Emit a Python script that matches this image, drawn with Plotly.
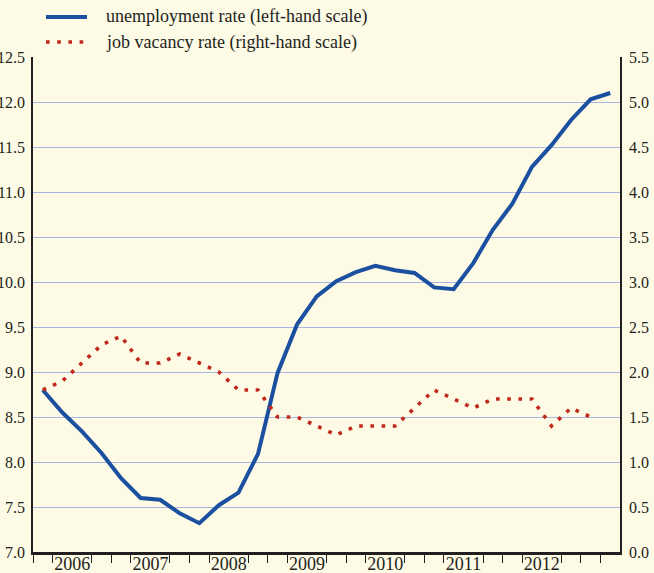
import plotly.graph_objects as go

# Quarterly observations, 2006 Q1 onwards
start_year = 2006
unemployment = [8.80, 8.55, 8.34, 8.10, 7.82, 7.60, 7.58, 7.43, 7.32, 7.52,
                7.66, 8.09, 8.99, 9.53, 9.84, 10.01, 10.11, 10.18, 10.13, 10.10,
                9.94, 9.92, 10.21, 10.58, 10.87, 11.28, 11.52, 11.80, 12.03, 12.10]
job_vacancy = [1.8, 1.9, 2.1, 2.3, 2.4, 2.1, 2.1, 2.2, 2.1, 2.0,
               1.8, 1.8, 1.5, 1.5, 1.4, 1.3, 1.4, 1.4, 1.4, 1.6,
               1.8, 1.7, 1.6, 1.7, 1.7, 1.7, 1.4, 1.6, 1.5]
years = [2006, 2007, 2008, 2009, 2010, 2011, 2012]
series_names = ["unemployment rate (left-hand scale)",
                "job vacancy rate (right-hand scale)"]

# place each quarter at its mid-point on a continuous year axis
x_unemp = [start_year + (i + 0.5) / 4 for i in range(len(unemployment))]
x_vac = [start_year + (i + 0.5) / 4 for i in range(len(job_vacancy))]

BG = "#fdfae5"
BLUE = "#1b50a0"
RED = "#c0281c"
GRID = "#aab6e2"
INK = "#231f20"
FONT = "Liberation Serif"

fig = go.Figure()
fig.add_trace(go.Scatter(x=x_unemp, y=unemployment, mode="lines",
                         name=series_names[0], yaxis="y",
                         line=dict(color=BLUE, width=4)))
fig.add_trace(go.Scatter(x=x_vac, y=job_vacancy, mode="lines",
                         name=series_names[1], yaxis="y2",
                         line=dict(color=RED, width=3.6, dash="3.6px,7.6px")))

# quarter boundaries get a tick, except mid-year where the year label sits
quarter_edges = [start_year + k / 4 for k in range(0, 31) if k % 4 != 2]

fig.update_layout(
    width=654, height=573,
    margin=dict(l=33, r=34, t=57, b=21),
    paper_bgcolor=BG, plot_bgcolor=BG,
    showlegend=False,
    font=dict(family=FONT, size=16, color=INK),
    xaxis=dict(
        range=[2006, 2013.5], automargin=False,
        tickvals=[y + 0.5 for y in years],
        ticktext=[str(y) for y in years],
        ticks="outside", ticklen=0, tickcolor=INK,
        ticklabelstandoff=-6,
        showgrid=False, zeroline=False,
        showline=True, linecolor=INK, linewidth=2.5,
        tickfont=dict(family=FONT, size=18, color=INK),
        minor=dict(tickvals=quarter_edges, ticks="outside", ticklen=8,
                   tickcolor=INK, tickwidth=1, showgrid=False),
    ),
    yaxis=dict(
        range=[7.0, 12.5], dtick=0.5, tick0=7.0, tickformat=".1f",
        automargin=False,
        showgrid=True, gridcolor=GRID, gridwidth=1,
        zeroline=False, ticks="",
        showline=True, linecolor=INK, linewidth=1.5,
        tickfont=dict(family=FONT, size=16, color=INK),
        ticklabelstandoff=3,
    ),
    yaxis2=dict(
        range=[0.0, 5.5], dtick=0.5, tick0=0.0, tickformat=".1f",
        overlaying="y", side="right", automargin=False,
        showgrid=False, zeroline=False, ticks="",
        showline=True, linecolor=INK, linewidth=1.5,
        tickfont=dict(family=FONT, size=16, color=INK),
        ticklabelstandoff=4,
    ),
)

# key above the plot area
plot_l, plot_w, plot_b, plot_h = 33, 587, 552, 495
def px_x(p):
    return (p - plot_l) / plot_w
def px_y(p):
    return (plot_b - p) / plot_h

key_rows = [(17, dict(color=BLUE, width=4)),
            (42, dict(color=RED, width=3.6, dash="3.6px,7.6px"))]
for (row_y, style), label in zip(key_rows, series_names):
    fig.add_shape(type="line", xref="paper", yref="paper",
                  x0=px_x(46), x1=px_x(87), y0=px_y(row_y), y1=px_y(row_y),
                  line=style)
    fig.add_annotation(xref="paper", yref="paper", x=px_x(104), y=px_y(row_y),
                       text=label, showarrow=False, xanchor="left",
                       yanchor="middle",
                       font=dict(family=FONT, size=18, color=INK))

fig.write_html("out.html")
